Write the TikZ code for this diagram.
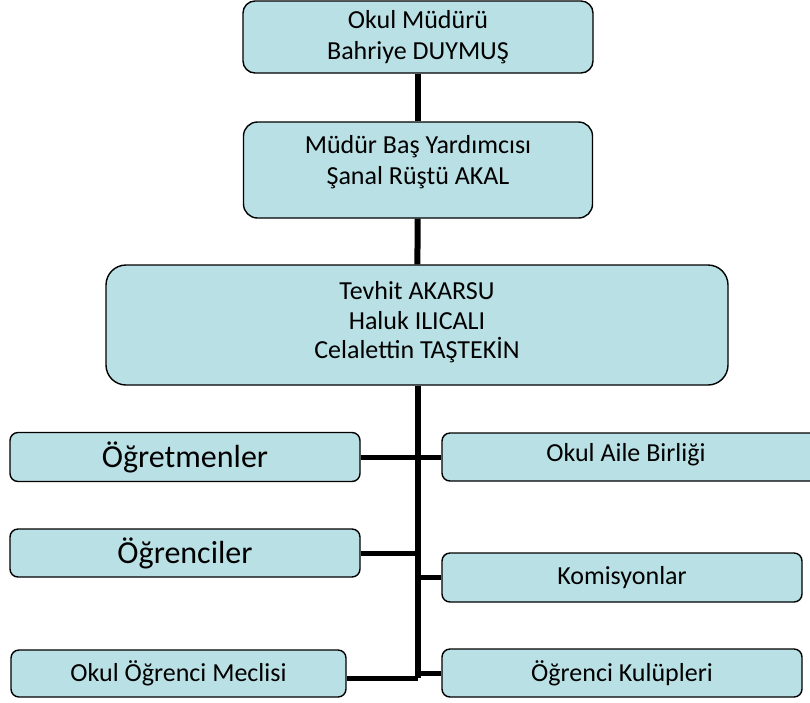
\documentclass[tikz,border=0pt]{standalone}
\usepackage{fontspec}
\setmainfont{Carlito}
\definecolor{kutumavi}{HTML}{B9E0E4}
\tikzset{
  kutu/.style={draw, line width=1.4pt, fill=kutumavi, rounded corners=8pt,
    align=center, inner sep=0pt, font=\fontsize{26}{31}\selectfont},
  yazi/.style={align=center, inner sep=0pt, font=\fontsize{26}{31}\selectfont},
  buyuk/.style={font=\fontsize{32}{38}\selectfont},
  hat/.style={line width=5pt}
}
\begin{document}
\begin{tikzpicture}[x=1pt, y=-1pt]
          \useasboundingbox (0,0) rectangle (810,702);
          % Kutular
          \node[kutu, minimum width=350pt, minimum height=72pt, rounded corners=12pt] (mudur) at (418,37) {Okul Müdürü\\Bahriye DUYMUŞ};
          \node[kutu, minimum width=349pt, minimum height=96pt, rounded corners=14pt] (yardimci) at (418,170) {};
          \node[yazi] (yardimciyazi) at (418,162) {Müdür Baş Yardımcısı\\Şanal Rüştü AKAL};
          \node[kutu, minimum width=622pt, minimum height=120pt, rounded corners=20pt, font=\fontsize{26}{30}\selectfont] (ekip) at (417,325) {};
          \node[yazi, font=\fontsize{26}{29.5}\selectfont] (ekipyazi) at (417,322.5) {Tevhit AKARSU\\Haluk ILICALI\\Celalettin TAŞTEKİN};
          \node[kutu, buyuk, minimum width=350pt, minimum height=49pt] (ogretmen) at (185,457) {Öğretmenler};
          \node[kutu, buyuk, minimum width=350pt, minimum height=48pt] (ogrenci) at (185,553) {Öğrenciler};
          \node[kutu, minimum width=335pt, minimum height=47pt] (meclis) at (178.5,673.5) {Okul Öğrenci Meclisi};
          \node[kutu, minimum width=396pt, minimum height=48pt] (aile) at (640,457) {};
          \node[yazi] (aileyazi) at (626,455) {Okul Aile Birliği};
          \node[kutu, minimum width=360pt, minimum height=49pt] (komisyon) at (622,577.5) {Komisyonlar};
          \node[kutu, minimum width=360pt, minimum height=48pt] (kulup) at (622,673) {Öğrenci Kulüpleri};

          % Ana hat
          \coordinate (dip) at (418,678);
          \draw[hat, line width=6pt] (mudur) -- (yardimci);
          \draw[hat, line width=6pt] (yardimci) -- (ekip);
          \draw[hat, line width=6pt] (ekip.south -| dip) -- (dip);

          % Yan hatlar
          \draw[hat] (ogretmen.east) -- (aile.west);
          \draw[hat] (ogrenci.east) -- (ogrenci.east -| dip);
          \draw[hat] (komisyon.west) -- (komisyon.west -| dip);
          \draw[hat] (meclis.east |- dip) -- (dip);
          \draw[hat] (kulup.west) -- (kulup.west -| dip);
        \end{tikzpicture}
\end{document}
